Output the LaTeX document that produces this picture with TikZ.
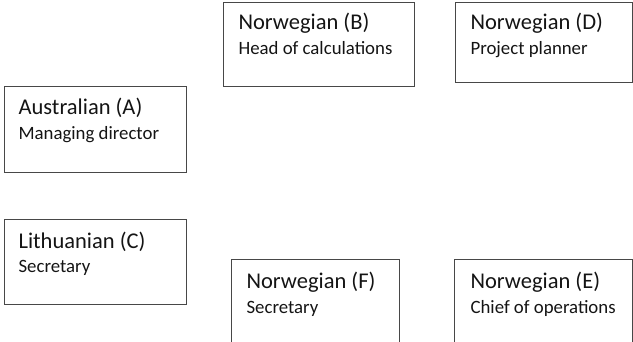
\documentclass[tikz,border=0pt]{standalone}
\usepackage{fontspec}
\setmainfont{Carlito}
\usetikzlibrary{positioning,calc}

\begin{document}
\begin{tikzpicture} [x=1pt, y=-1pt,
    line width=1.2pt,
    person/.style={draw=black!72, anchor=north west, inner sep=0pt},
    who/.style={anchor=base west, inner sep=0pt, text=black!92, font=\fontsize{22.5}{26}\selectfont},
    job/.style={anchor=base west, inner sep=0pt, text=black!92, font=\fontsize{18.8}{22}\selectfont}]
  \useasboundingbox (0,0) rectangle (633,342);
  \clip (0,0) rectangle (633,342);

  % the six people
  \node[person, minimum width=191, minimum height=84] (B) at (223,2)   {};
  \node[person, minimum width=177, minimum height=80] (D) at (455,2)   {};
  \node[person, minimum width=182, minimum height=86] (A) at (4,86)    {};
  \node[person, minimum width=182, minimum height=85] (C) at (4,219)   {};
  \node[person, minimum width=168, minimum height=95] (F) at (231,259) {};
  \node[person, minimum width=178, minimum height=95] (E) at (454,259) {};

  % names and jobs
  \node[who] (Bn) at ($(B.north west)+(15,28)$) {Norwegian (B)};
  \node[job] (Bj) at ($(B.north west)+(15,53)$) {Head of calculations};
  \node[who] (Dn) at ($(D.north west)+(15,28)$) {Norwegian (D)};
  \node[job] (Dj) at ($(D.north west)+(15,53)$) {Project planner};
  \node[who] (An) at ($(A.north west)+(14,29)$) {Australian (A)};
  \node[job] (Aj) at ($(A.north west)+(14,54)$) {Managing director};
  \node[who] (Cn) at ($(C.north west)+(14,30)$) {Lithuanian (C)};
  \node[job] (Cj) at ($(C.north west)+(14,54)$) {Secretary};
  \node[who] (Fn) at ($(F.north west)+(15,30)$) {Norwegian (F)};
  \node[job] (Fj) at ($(F.north west)+(15,55)$) {Secretary};
  \node[who] (En) at ($(E.north west)+(16,30)$) {Norwegian (E)};
  \node[job] (Ej) at ($(E.north west)+(16,55)$) {Chief of operations};
\end{tikzpicture}
\end{document}
